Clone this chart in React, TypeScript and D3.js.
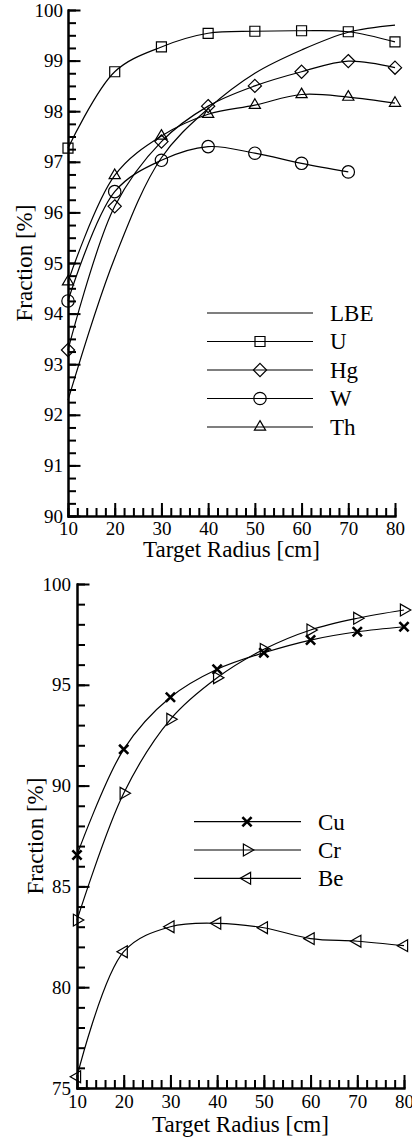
import React, { useEffect, useRef } from "react";
import * as d3 from "d3";

// ---------- data ----------
const radii = [10, 20, 30, 40, 50, 60, 70, 80];
const wRadii = [10, 20, 30, 40, 50, 60, 70];

const lbeVals = [92.29, 95.1, 97.08, 98.05, 98.75, 99.21, 99.56, 99.7];
const uVals = [97.27, 98.78, 99.27, 99.54, 99.58, 99.59, 99.57, 99.37];
const hgVals = [93.28, 96.12, 97.4, 98.1, 98.5, 98.78, 98.99, 98.86];
const wVals = [94.25, 96.41, 97.03, 97.3, 97.17, 96.97, 96.8];
const thVals = [94.63, 96.73, 97.51, 97.94, 98.12, 98.33, 98.28, 98.16];

const cuVals = [86.56, 91.8, 94.38, 95.77, 96.59, 97.22, 97.63, 97.88];
const crVals = [83.33, 89.62, 93.29, 95.35, 96.76, 97.72, 98.3, 98.71];
const beVals = [75.56, 81.76, 83.0, 83.17, 82.95, 82.41, 82.28, 82.06];

const xTicks = [10, 20, 30, 40, 50, 60, 70, 80];
const topYTicks = [90, 91, 92, 93, 94, 95, 96, 97, 98, 99, 100];
const botYTicks = [75, 80, 85, 90, 95, 100];

const xTitle = "Target Radius [cm]";
const yTitle = "Fraction [%]";

type Series = { name: string; xs: number[]; ys: number[]; marker: string | null };

const topSeries: Series[] = [
  { name: "LBE", xs: radii, ys: lbeVals, marker: null },
  { name: "U", xs: radii, ys: uVals, marker: "square" },
  { name: "Hg", xs: radii, ys: hgVals, marker: "diamond" },
  { name: "W", xs: wRadii, ys: wVals, marker: "circle" },
  { name: "Th", xs: radii, ys: thVals, marker: "triUp" },
];
const botSeries: Series[] = [
  { name: "Cu", xs: radii, ys: cuVals, marker: "x" },
  { name: "Cr", xs: radii, ys: crVals, marker: "triRight" },
  { name: "Be", xs: radii, ys: beVals, marker: "triLeft" },
];

const FONT = "Liberation Serif, DejaVu Serif, Times New Roman, serif";

function markerPath(kind: string): string {
  const p = d3.path();
  if (kind === "square") {
    const h = 5;
    p.rect(-h, -h, 2 * h, 2 * h);
  } else if (kind === "diamond") {
    const r = 6.6;
    p.moveTo(0, -r); p.lineTo(r, 0); p.lineTo(0, r); p.lineTo(-r, 0); p.closePath();
  } else if (kind === "circle") {
    const r = 6.2;
    p.moveTo(r, 0); p.arc(0, 0, r, 0, Math.PI * 2);
  } else if (kind === "triUp") {
    p.moveTo(0, -6.4); p.lineTo(5.6, 3.2); p.lineTo(-5.6, 3.2); p.closePath();
  } else if (kind === "triRight") {
    p.moveTo(6.8, 0); p.lineTo(-3.6, 5.9); p.lineTo(-3.6, -5.9); p.closePath();
  } else if (kind === "triLeft") {
    p.moveTo(-6.8, 0); p.lineTo(3.6, 5.9); p.lineTo(3.6, -5.9); p.closePath();
  } else if (kind === "x") {
    const r = 4.6;
    p.moveTo(-r, -r); p.lineTo(r, r); p.moveTo(r, -r); p.lineTo(-r, r);
  }
  return p.toString();
}

function Marker({ kind, x, y }: { kind: string; x: number; y: number }) {
  return (
    <path
      d={markerPath(kind)}
      transform={`translate(${x},${y})`}
      fill="none"
      stroke="#000"
      strokeWidth={kind === "x" ? 2.6 : 1.2}
    />
  );
}

type PanelProps = {
  xRange: [number, number];
  yDomain: [number, number];
  yRange: [number, number];
  yMajor: number[];
  yMinorStep: number;
  series: Series[];
  yPad: number;
  xPad: number;
  xTitleY: number;
  yTitleX: number;
  legend: { x0: number; x1: number; mx: number; tx: number; rows: number[] };
};

function Panel(props: PanelProps) {
  const { xRange, yDomain, yRange, yMajor, yMinorStep, series, yPad, xPad, xTitleY, yTitleX, legend } = props;
  const x = d3.scaleLinear().domain([10, 80]).range(xRange);
  const y = d3.scaleLinear().domain(yDomain).range(yRange);
  const gx = useRef<SVGGElement>(null);
  const gy = useRef<SVGGElement>(null);

  useEffect(() => {
    const xMinor = d3.range(10, 80.001, 2);
    const yMinor = d3.range(yDomain[0], yDomain[1] + 0.001, yMinorStep);
    const sx = d3.select(gx.current!);
    sx.selectAll("*").remove();
    const mx = sx.append("g").call(d3.axisBottom(x).tickValues(xMinor).tickSize(-8).tickSizeOuter(0));
    mx.selectAll("text").remove();
    sx.append("g").call(
      d3.axisBottom(x).tickValues(xTicks).tickSize(-13).tickSizeOuter(0).tickPadding(xPad).tickFormat(d3.format("d"))
    );
    const sy = d3.select(gy.current!);
    sy.selectAll("*").remove();
    const my = sy.append("g").call(d3.axisLeft(y).tickValues(yMinor).tickSize(-8).tickSizeOuter(0));
    my.selectAll("text").remove();
    sy.append("g").call(
      d3.axisLeft(y).tickValues(yMajor).tickSize(-12.5).tickSizeOuter(0).tickPadding(yPad).tickFormat(d3.format("d"))
    );
    [sx, sy].forEach((s) => {
      s.selectAll("g").attr("font-family", FONT).attr("font-size", 19);
      s.selectAll("path.domain").attr("stroke", "#000").attr("stroke-width", 2).attr("stroke-linecap", "square");
      s.selectAll("line").attr("stroke", "#000").attr("stroke-width", 2);
      s.selectAll("text").attr("fill", "#000").style("font-family", FONT);
    });
  });

  const line = d3
    .line<[number, number]>()
    .x((d) => x(d[0]))
    .y((d) => y(d[1]))
    .curve(d3.curveCatmullRom.alpha(0.5));

  const midX = (xRange[0] + xRange[1]) / 2;
  const midY = (yRange[0] + yRange[1]) / 2;
  const tStyle = { fontFamily: FONT };

  return (
    <g>
      {series.map((s) => {
        const pts = s.xs.map((v, i) => [v, s.ys[i]] as [number, number]);
        return (
          <g key={s.name}>
            <path d={line(pts) || ""} fill="none" stroke="#000" strokeWidth={1.2} />
            {s.marker && pts.map((p, i) => <Marker key={i} kind={s.marker!} x={x(p[0])} y={y(p[1])} />)}
          </g>
        );
      })}
      <g ref={gx} transform={`translate(0,${yRange[0]})`} />
      <g ref={gy} transform={`translate(${xRange[0]},0)`} />
      <text x={midX} y={xTitleY} textAnchor="middle" style={tStyle} fontSize={23} fill="#000">
        {xTitle}
      </text>
      <text
        transform={`translate(${yTitleX},${midY}) rotate(-90)`}
        textAnchor="middle"
        style={tStyle}
        fontSize={23}
        fill="#000"
      >
        {yTitle}
      </text>
      {series.map((s, i) => (
        <g key={"lg" + s.name}>
          <line x1={legend.x0} x2={legend.x1} y1={legend.rows[i]} y2={legend.rows[i]} stroke="#000" strokeWidth={1.2} />
          {s.marker && <Marker kind={s.marker} x={legend.mx} y={legend.rows[i]} />}
          <text x={legend.tx} y={legend.rows[i]} dy="0.34em" style={tStyle} fontSize={23} fill="#000">
            {s.name}
          </text>
        </g>
      ))}
    </g>
  );
}

export default function App() {
  return (
    <svg
      width={412}
      height={1139}
      viewBox="0 0 412 1139"
      style={{ position: "absolute", left: 0, top: 0, background: "#fff" }}
    >
      <rect x={0} y={0} width={412} height={1139} fill="#fff" />
      <Panel
        xRange={[68, 395]}
        yDomain={[90, 100]}
        yRange={[516, 10]}
        yMajor={topYTicks}
        yMinorStep={0.25}
        series={topSeries}
        yPad={5}
        xPad={5.5}
        xTitleY={556.5}
        yTitleX={32}
        legend={{ x0: 207, x1: 313, mx: 260, tx: 330, rows: [313, 341.5, 370, 398.5, 427] }}
      />
      <Panel
        xRange={[77, 404]}
        yDomain={[75, 100]}
        yRange={[1088, 584]}
        yMajor={botYTicks}
        yMinorStep={1}
        series={botSeries}
        yPad={6}
        xPad={6.5}
        xTitleY={1131.5}
        yTitleX={43}
        legend={{ x0: 194, x1: 301, mx: 247, tx: 318, rows: [821.7, 850, 878.3] }}
      />
    </svg>
  );
}
